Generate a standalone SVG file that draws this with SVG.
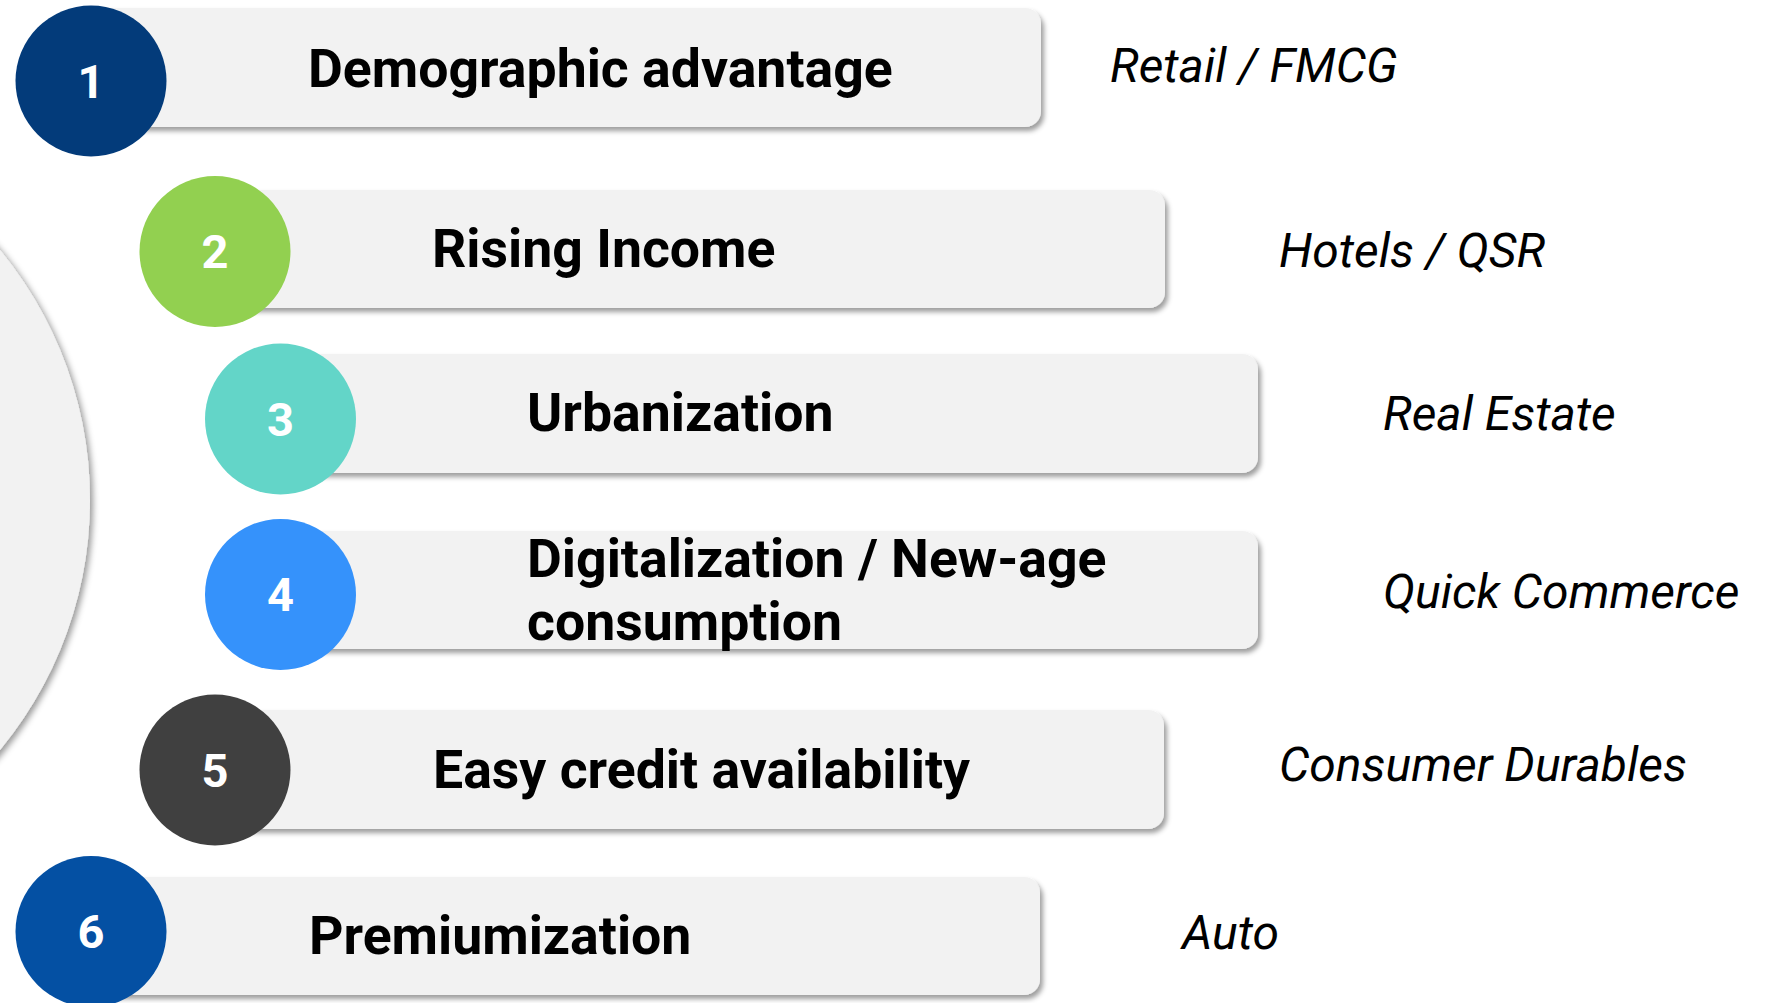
<svg xmlns="http://www.w3.org/2000/svg" width="1770" height="1003" viewBox="0 0 1770 1003">
<defs>
<filter id="sh" x="-5%" y="-20%" width="115%" height="150%">
<feDropShadow dx="3" dy="4" stdDeviation="2.5" flood-color="#000" flood-opacity="0.38"/>
</filter>
<filter id="shc" x="-20%" y="-20%" width="140%" height="140%">
<feDropShadow dx="3" dy="3" stdDeviation="3" flood-color="#000" flood-opacity="0.4"/>
</filter>
</defs>
<style>
.bar{fill:#f2f2f2;filter:url(#sh)}
.num{font-family:Roboto,"Liberation Sans",sans-serif;font-weight:bold;font-size:47px;fill:#fff;text-anchor:middle}
.lbl{font-family:Roboto,"Liberation Sans",sans-serif;font-weight:bold;font-size:53.6px;fill:#000}
.sec{font-family:Roboto,"Liberation Sans",sans-serif;font-style:italic;font-size:48px;fill:#000}
</style>
<rect width="1770" height="1003" fill="#fff"/>
<g id="hub"><circle cx="-302" cy="500" r="392" fill="#f2f2f2" filter="url(#shc)"/></g>
<g id="connectors"></g>
<g id="n1">
<rect class="bar" x="91" y="8" width="950" height="119" rx="16"/>
<circle cx="91" cy="81" r="75.5" fill="#033b7a"/>
<text class="num" x="91" y="98">1</text>
<text class="lbl" x="308" y="87">Demographic advantage</text>
<text class="sec" x="1110" y="82">Retail / FMCG</text>
</g>
<g id="n2">
<rect class="bar" x="215" y="190" width="950" height="118" rx="16"/>
<circle cx="215" cy="251.5" r="75.5" fill="#92d050"/>
<text class="num" x="215" y="268">2</text>
<text class="lbl" x="432" y="267">Rising Income</text>
<text class="sec" x="1279" y="267">Hotels / QSR</text>
</g>
<g id="n3">
<rect class="bar" x="280" y="354" width="978" height="119" rx="16"/>
<circle cx="280.5" cy="419" r="75.5" fill="#63d5c8"/>
<text class="num" x="280.5" y="436">3</text>
<text class="lbl" x="527" y="431">Urbanization</text>
<text class="sec" x="1383" y="430">Real Estate</text>
</g>
<g id="n4">
<rect class="bar" x="280" y="531" width="978" height="118" rx="16"/>
<circle cx="280.5" cy="594.5" r="75.5" fill="#3592fb"/>
<text class="num" x="280.5" y="611">4</text>
<text class="lbl" x="527" y="577">Digitalization / New-age</text>
<text class="lbl" x="527" y="640">consumption</text>
<text class="sec" x="1383" y="608">Quick Commerce</text>
</g>
<g id="n5">
<rect class="bar" x="215" y="710" width="949" height="119" rx="16"/>
<circle cx="215" cy="770" r="75.5" fill="#404040"/>
<text class="num" x="215" y="787">5</text>
<text class="lbl" x="433" y="788">Easy credit availability</text>
<text class="sec" x="1279" y="781">Consumer Durables</text>
</g>
<g id="n6">
<rect class="bar" x="91" y="877" width="949" height="118" rx="16"/>
<circle cx="91" cy="931.5" r="75.5" fill="#0450a3"/>
<text class="num" x="91" y="948">6</text>
<text class="lbl" x="309" y="954">Premiumization</text>
<text class="sec" x="1182" y="949">Auto</text>
</g>
</svg>
